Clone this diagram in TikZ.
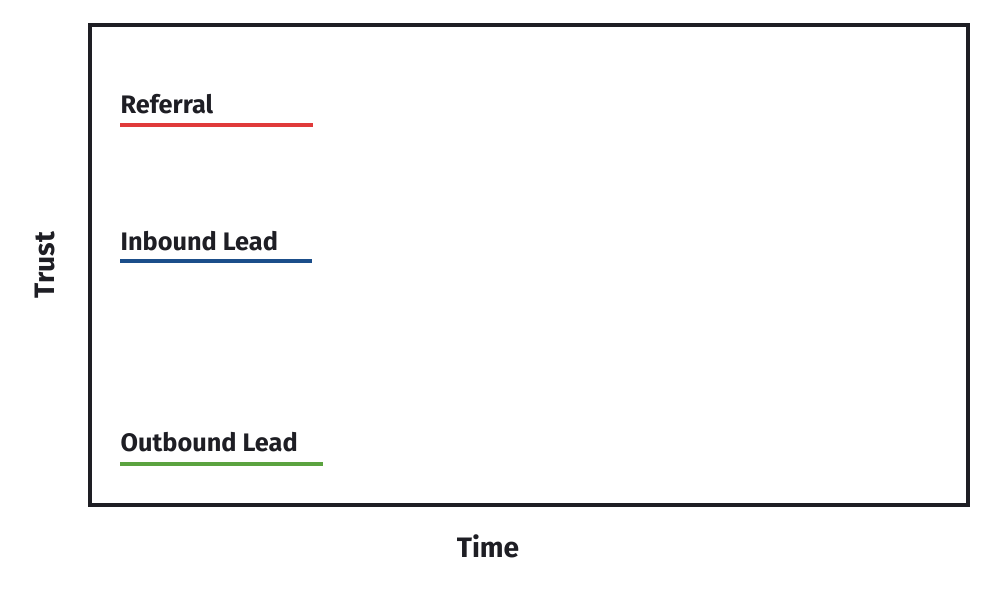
\documentclass[tikz,border=0pt]{standalone}
\usepackage{fontspec}
\setmainfont{Fira Sans}
\usepackage{xcolor}
\usetikzlibrary{positioning}
\definecolor{refred}{HTML}{E03A3A}
\definecolor{inblue}{HTML}{1B4E8A}
\definecolor{outgreen}{HTML}{5BA33F}
\definecolor{ink}{HTML}{1E1E24}
\begin{document}
\begin{tikzpicture}[
    lbl/.style={anchor=base west, inner sep=0pt, font=\fontsize{7.2}{9}\selectfont\bfseries, text=ink},
    axlbl/.style={inner sep=0pt, font=\fontsize{8}{10}\selectfont\bfseries, text=ink},
    series/.style={line width=1.1pt}
]
    \useasboundingbox (0,0) rectangle (10,6);
    \draw[line width=0.9pt, ink] (0.9,0.95) rectangle (9.68,5.75);

    \node[lbl] (ref) at (1.2,4.87) {Referral};
    \node[lbl] (inb) at (1.2,3.50) {Inbound Lead};
    \node[lbl] (outb) at (1.2,1.49) {Outbound Lead};

    \coordinate (r1) at (1.2,4.75);  \coordinate (r2) at (3.13,4.75);
    \coordinate (i1) at (1.2,3.39);  \coordinate (i2) at (3.12,3.39);
    \coordinate (o1) at (1.2,1.36);  \coordinate (o2) at (3.23,1.36);
    \draw[series, refred] (r1) -- (r2);
    \draw[series, inblue] (i1) -- (i2);
    \draw[series, outgreen] (o1) -- (o2);

    \node[axlbl] (time) at (4.88,0.54) {Time};
    \node[axlbl, rotate=90] (trust) at (0.45,3.35) {Trust};
\end{tikzpicture}
\end{document}
